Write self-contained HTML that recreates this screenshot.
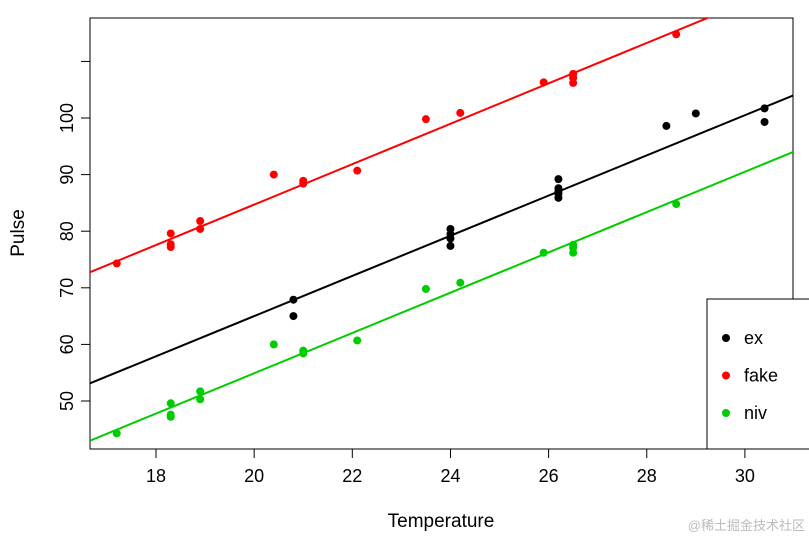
<!DOCTYPE html>
<html><head><meta charset="utf-8"><style>
body{margin:0;background:#fff;}
svg{display:block;font-family:"Liberation Sans",Arial,sans-serif;}
</style></head><body>
<svg id="chart" width="809" height="540">
<g id="axes"></g><g id="lines"></g><g id="points"></g><g id="legend"></g>
<text x="441" y="527" font-size="19" text-anchor="middle">Temperature</text>
<text x="24" y="233" font-size="19" text-anchor="middle" transform="rotate(-90 24 233)">Pulse</text>
<text x="805" y="530" font-size="13" fill="#bbb" text-anchor="end" font-family="'Liberation Sans','Noto Sans CJK SC',sans-serif">@稀土掘金技术社区</text>
</svg>
<script>
const xTicks=[18,20,22,24,26,28,30];
const yTicks=[50,60,70,80,90,100,110];
const yTickLabels=["50","60","70","80","90","100",""];
const groups=["ex","fake","niv"];
const colors=["#000000","#ff0000","#00cd00"];
const exX=[20.8,20.8,24,24,24,24,26.2,26.2,26.2,26.2,26.2,28.4,29,30.4,30.4];
const exY=[67.9,65,80.4,79.5,78.7,77.4,89.2,87.6,87,86.6,85.9,98.6,100.8,101.7,99.3];
const fakeX=[17.2,18.3,18.3,18.3,18.9,18.9,20.4,21,21,22.1,23.5,24.2,25.9,26.5,26.5,26.5,28.6];
const fakeY=[74.3,79.6,77.7,77.2,81.8,80.4,90,88.9,88.4,90.7,99.8,100.9,106.3,107.8,107.1,106.2,114.8];
const nivX=[17.2,18.3,18.3,18.3,18.9,18.9,20.4,21,21,22.1,23.5,24.2,25.9,26.5,26.5,26.5,28.6];
const nivY=[44.3,49.6,47.6,47.2,51.7,50.3,60,58.9,58.4,60.7,69.8,70.9,76.2,77.6,77.1,76.2,84.8];
const intercepts=[-6.0,13.3,-16.3];
const slopes=[3.55,3.57,3.56];
const L=90,R=793,T=18,B=449,xmin=16.655,xmax=30.98,ymin=41.52,ymax=117.67;
const sx=v=>L+(v-xmin)/(xmax-xmin)*(R-L);
const sy=v=>B-(v-ymin)/(ymax-ymin)*(B-T);
const NS="http://www.w3.org/2000/svg";
function mk(t,a,p){const e=document.createElementNS(NS,t);for(const k in a)e.setAttribute(k,a[k]);p.appendChild(e);return e;}
const axes=document.getElementById('axes');
const box=mk('rect',{x:L,y:T,width:R-L,height:B-T,fill:'none',stroke:'#000','stroke-width':1},axes);


xTicks.forEach(v=>{const x=sx(v);
 const t=mk('line',{x1:x,x2:x,y1:B,y2:B+9,stroke:'#000'},axes);
 
 
 const l=mk('text',{x:x,y:B+33,'font-size':18,'text-anchor':'middle'},axes);l.textContent=v;
 
 });
yTicks.forEach((v,i)=>{const y=sy(v);
 const t=mk('line',{x1:L-9,x2:L,y1:y,y2:y,stroke:'#000'},axes);
 
 
 const l=mk('text',{x:L-17,y:y,'font-size':18,'text-anchor':'middle',transform:`rotate(-90 ${L-17} ${y})`},axes);l.textContent=yTickLabels[i];
 
 });
const cp=document.createElementNS(NS,'clipPath');cp.id='clip';mk('rect',{x:L,y:T,width:R-L,height:B-T},cp);document.getElementById('chart').appendChild(cp);
const lg=document.getElementById('lines');lg.setAttribute('clip-path','url(#clip)');
groups.forEach((g,i)=>{const f=v=>intercepts[i]+slopes[i]*v;
 const ln=mk('line',{x1:sx(xmin),y1:sy(f(xmin)),x2:sx(xmax),y2:sy(f(xmax)),stroke:colors[i],'stroke-width':2},lg);
 
 });
const pg=document.getElementById('points');
[[exX,exY],[fakeX,fakeY],[nivX,nivY]].forEach((d,i)=>{d[0].forEach((x,j)=>{
 const c=mk('circle',{cx:sx(x),cy:sy(d[1][j]),r:4,fill:colors[i]},pg);
 
 });});
const leg=document.getElementById('legend');
const lb=mk('rect',{x:707,y:299,width:120,height:150,fill:'#fff',stroke:'#000'},leg);


groups.forEach((g,i)=>{const y=338+i*37.5;
 const c=mk('circle',{cx:726,cy:y,r:4,fill:colors[i]},leg);
 
 
 const t=mk('text',{x:744,y:y+6,'font-size':18},leg);t.textContent=g;
 
 });
</script>
</body></html>
